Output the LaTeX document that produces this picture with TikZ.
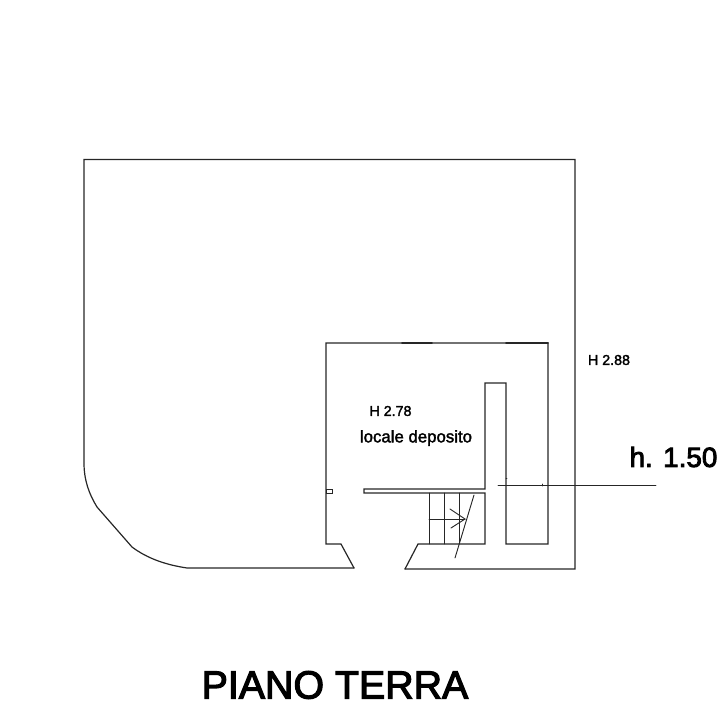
\documentclass[tikz,border=0pt]{standalone}
\usepackage{fontspec}
\setmainfont{Liberation Sans}
\newfontfamily\heavyfont[FakeBold=3]{Liberation Sans}
\newfontfamily\smallheavyfont[FakeBold=2]{Liberation Sans}
\usepackage{tikz}
\usetikzlibrary{calc}
\tikzset{
  wall/.style={draw=black!85, line width=0.9pt, line join=miter},
  thinwall/.style={draw=black!85, line width=0.7pt},
  label/.style={inner sep=0pt, anchor=center, text=black},
}
\begin{document}
\begin{tikzpicture}[x=0.75pt, y=-0.75pt, line cap=round]
  \useasboundingbox (0,0) rectangle (725,716);

  % outer perimeter
  \draw[wall] (354,568) -- (187,568)
    .. controls (167,565) and (148,559) .. (132,547)
    -- (97,507)
    .. controls (89,494) and (84,480) .. (84,463)
    -- (84,159.5) -- (575,159.5) -- (575,569) -- (405,569);

  % room
  \draw[wall] (354,568) -- (341,544) -- (326,544) -- (326,343) -- (548,343)
    -- (548,544) -- (506,544) -- (506,383) -- (485,383) -- (485,489)
    -- (364,489) -- (364,493) -- (485,493) -- (485,544) -- (418,544) -- (405,569);
  \draw[thinwall] (326,489) rectangle (332,493);
  \draw[wall, line width=1.3pt] (402,343) -- (432,343);
  \draw[wall, line width=1.3pt] (506,343) -- (548,343);

  % stairs
  \foreach \x in {429,444,459}
    \draw[thinwall] (\x,493) -- (\x,544);
  \draw[thinwall] (429,519) -- (465,519);
  \draw[thinwall] (450,509) -- (465,519) -- (451,528);
  \draw[thinwall] (474,495) -- (455,558);

  % leader
  \draw[thinwall] (498,485) -- (656,485);
  \draw[thinwall] (506,478) -- (507,478);
  \draw[thinwall] (542,484) -- (542,486);

  \node[label, font=\smallheavyfont\fontsize{10.7}{12}\selectfont] (hup) at (609,360) {H 2.88};
  \node[label, font=\smallheavyfont\fontsize{10.7}{12}\selectfont] (hroom) at (390.5,411) {H 2.78};
  \node[label, font=\smallheavyfont\fontsize{12.6}{14}\selectfont] (deposito) at (416,438) {locale deposito};
  \node[label, font=\heavyfont\fontsize{20.9}{24}\selectfont] (hpiano) at (673.5,457) {h. 1.50};
  \node[label, font=\heavyfont\fontsize{29.5}{32}\selectfont] (title) at (335,685) {PIANO TERRA};
\end{tikzpicture}
\end{document}
